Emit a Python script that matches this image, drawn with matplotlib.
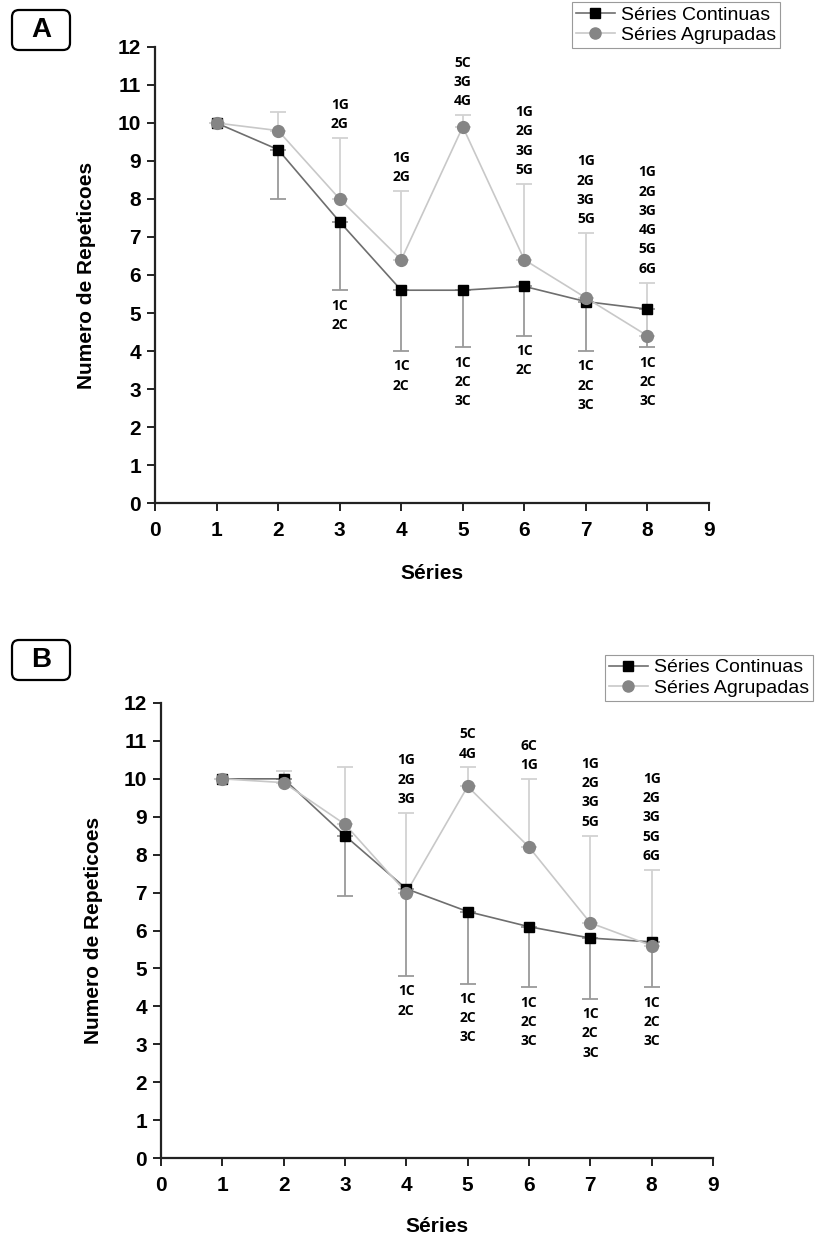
import matplotlib
matplotlib.use("Agg")
import matplotlib.pyplot as plt
import matplotlib.patches as mpatches
import matplotlib.transforms as mtransforms
from matplotlib.lines import Line2D
import numpy as np

# ---------------- data ----------------
series_x = [1, 2, 3, 4, 5, 6, 7, 8]

# Panel A
a_cont = [10.0, 9.3, 7.4, 5.6, 5.6, 5.7, 5.3, 5.1]
a_cont_low = [10.0, 8.0, 5.6, 4.0, 4.1, 4.4, 4.0, 4.1]
a_agr = [10.0, 9.8, 8.0, 6.4, 9.9, 6.4, 5.4, 4.4]
a_agr_high = [10.0, 10.3, 9.6, 8.2, 10.2, 8.4, 7.1, 5.8]
a_top_labels = ["", "", "1G\n2G", "1G\n2G", "5C\n3G\n4G", "1G\n2G\n3G\n5G",
                "1G\n2G\n3G\n5G", "1G\n2G\n3G\n4G\n5G\n6G"]
a_bot_labels = ["", "", "1C\n2C", "1C\n2C", "1C\n2C\n3C", "1C\n2C",
                "1C\n2C\n3C", "1C\n2C\n3C"]

# Panel B
b_cont = [10.0, 10.0, 8.5, 7.1, 6.5, 6.1, 5.8, 5.7]
b_cont_low = [10.0, 10.0, 6.9, 4.8, 4.6, 4.5, 4.2, 4.5]
b_agr = [10.0, 9.9, 8.8, 7.0, 9.8, 8.2, 6.2, 5.6]
b_agr_high = [10.0, 10.2, 10.3, 9.1, 10.3, 10.0, 8.5, 7.6]
b_top_labels = ["", "", "", "1G\n2G\n3G", "5C\n4G", "6C\n1G",
                "1G\n2G\n3G\n5G", "1G\n2G\n3G\n5G\n6G"]
b_bot_labels = ["", "", "", "1C\n2C", "1C\n2C\n3C", "1C\n2C\n3C",
                "1C\n2C\n3C", "1C\n2C\n3C"]

x_ticks = list(range(0, 10))
y_ticks = list(range(0, 13))
label_cont = "Séries Continuas"
label_agr = "Séries Agrupadas"
xlabel = "Séries"
ylabel = "Numero de Repeticoes"

# ---------------- style ----------------
W, H = 831, 1238
NARROW = ["Liberation Sans Narrow", "Liberation Sans", "DejaVu Sans"]
ANNOT = ["Open Sans", "DejaVu Sans"]

fig = plt.figure(figsize=(W / 100, H / 100), dpi=100)
fig.patch.set_facecolor("white")
pix = mtransforms.Affine2D().scale(1 / W, 1 / H) + fig.transFigure

C_LINE_CONT = "#6e6e6e"
C_BAR_CONT = "#9a9a9a"
C_LINE_AGR = "#c8c8c8"
C_BAR_AGR = "#d2d2d2"
C_MK_AGR = "#858585"


def panel(rect, cont, cont_low, agr, agr_high, top_labels, bot_labels,
          ylab_x, xlab_y, legend_anchor, letter, letter_box):
    ax = fig.add_axes(rect)
    x = np.array(series_x, dtype=float)
    c = np.array(cont)
    cl = np.array(cont_low)
    g = np.array(agr)
    gh = np.array(agr_high)

    # error bars
    ax.errorbar(x, c, yerr=[c - cl, np.zeros_like(c)], fmt="none",
                ecolor=C_BAR_CONT, elinewidth=1.3, capsize=6, capthick=1.3,
                zorder=2)
    ax.errorbar(x, g, yerr=[np.zeros_like(g), gh - g], fmt="none",
                ecolor=C_BAR_AGR, elinewidth=1.3, capsize=6, capthick=1.3,
                zorder=2)
    # lines and markers
    ax.plot(x, c, color=C_LINE_CONT, lw=1.2, zorder=3)
    ax.plot(x, g, color=C_LINE_AGR, lw=1.2, zorder=3)
    ax.plot(x, c, ls="none", marker="s", ms=7.5, mfc="black", mec="black",
            zorder=4)
    ax.plot(x, g, ls="none", marker="o", ms=8.5, mfc=C_MK_AGR, mec=C_MK_AGR,
            zorder=5)

    # significance labels
    for xi, hi, lo, tl, bl in zip(x, gh, cl, top_labels, bot_labels):
        if tl:
            ax.annotate(tl, (xi, hi), xytext=(0, 5), textcoords="offset points",
                        ha="center", va="bottom", ma="center", fontsize=10,
                        fontweight="bold", family=ANNOT, linespacing=1.48,
                        annotation_clip=False)
        if bl:
            ax.annotate(bl, (xi, lo), xytext=(0, -6), textcoords="offset points",
                        ha="center", va="top", ma="center", fontsize=10,
                        fontweight="bold", family=ANNOT, linespacing=1.48,
                        annotation_clip=False)

    ax.set_xlim(0, 9)
    ax.set_ylim(0, 12)
    ax.set_xticks(x_ticks)
    ax.set_yticks(y_ticks)
    for s in ["top", "right"]:
        ax.spines[s].set_visible(False)
    for s in ["left", "bottom"]:
        ax.spines[s].set_linewidth(1.6)
        ax.spines[s].set_color("#222222")
    ax.tick_params(axis="both", direction="out", length=6, width=1.4,
                   color="#222222", pad=4)
    ax.tick_params(axis="x", pad=7)
    for lab in ax.get_xticklabels() + ax.get_yticklabels():
        lab.set_fontfamily(NARROW)
        lab.set_fontweight("bold")
        lab.set_fontsize(15)
    ax.set_xlabel(xlabel, family=NARROW, fontweight="bold", fontsize=15)
    ax.set_ylabel(ylabel, family=NARROW, fontweight="bold", fontsize=15)
    ax.yaxis.set_label_coords(ylab_x, 0.5)
    ax.xaxis.set_label_coords(0.5, xlab_y)

    handles = [
        Line2D([], [], color=C_LINE_CONT, lw=1.2, marker="s", ms=7,
               mfc="black", mec="black"),
        Line2D([], [], color=C_LINE_AGR, lw=1.2, marker="o", ms=8,
               mfc=C_MK_AGR, mec=C_MK_AGR),
    ]
    leg = fig.legend(handles, [label_cont, label_agr], loc="upper left",
                     bbox_to_anchor=legend_anchor,
                     bbox_transform=fig.transFigure, frameon=True,
                     fancybox=False, edgecolor="#9a9a9a", framealpha=1,
                     prop={"family": NARROW, "size": 14}, handlelength=2.0,
                     handletextpad=0.3, borderpad=0.2, labelspacing=0.15,
                     borderaxespad=0)
    leg.get_frame().set_linewidth(0.8)

    # panel letter box
    bx, by, bw, bh = letter_box
    patch = mpatches.FancyBboxPatch((bx, H - by - bh), bw, bh,
                                    boxstyle="round,pad=0,rounding_size=7",
                                    transform=pix, fc="white", ec="black",
                                    lw=1.6)
    fig.add_artist(patch)
    fig.text((bx + bw / 2) / W, 1 - (by + bh / 2) / H, letter,
             ha="center", va="center", fontsize=20, fontweight="bold",
             family=["Liberation Sans", "DejaVu Sans"])
    return ax


panel([155 / W, 1 - 503 / H, 554 / W, 456 / H],
      a_cont, a_cont_low, a_agr, a_agr_high, a_top_labels, a_bot_labels,
      -0.107, -0.134, (572 / W, 1 - 2 / H), "A", (12, 10, 58, 40))

panel([161 / W, 1 - 1158 / H, 552 / W, 455 / H],
      b_cont, b_cont_low, b_agr, b_agr_high, b_top_labels, b_bot_labels,
      -0.105, -0.130, (605 / W, 1 - 655 / H), "B", (12, 640, 58, 40))

fig.savefig("out.png", dpi=100)
